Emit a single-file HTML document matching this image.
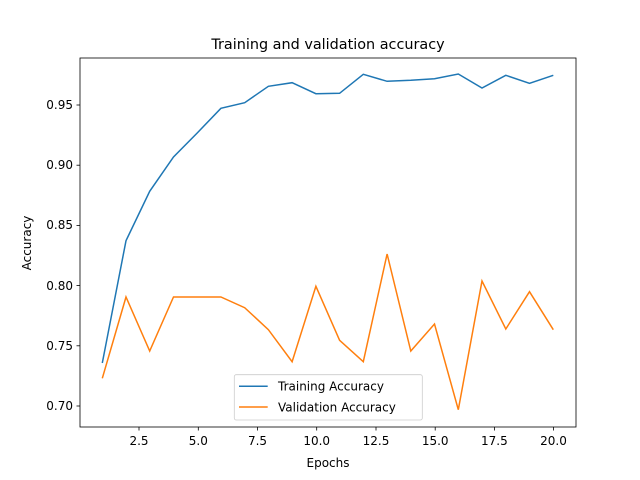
<!DOCTYPE html>
<html><head><meta charset="utf-8"><style>body{margin:0;background:#fff}svg{display:block}text{font-family:"DejaVu Sans","Liberation Sans",sans-serif;fill:#000}</style></head><body>
<svg width="640" height="480" viewBox="0 0 640 480">
<rect width="640" height="480" fill="#fff"/>
<text x="328" y="49" font-size="14.4" text-anchor="middle">Training and validation accuracy</text>
<g stroke="#000" stroke-width="0.8">
<line x1="139" y1="427" x2="139" y2="430.5"/><line x1="198.3" y1="427" x2="198.3" y2="430.5"/><line x1="257.5" y1="427" x2="257.5" y2="430.5"/><line x1="316.7" y1="427" x2="316.7" y2="430.5"/><line x1="376" y1="427" x2="376" y2="430.5"/><line x1="435.2" y1="427" x2="435.2" y2="430.5"/><line x1="494.4" y1="427" x2="494.4" y2="430.5"/><line x1="553.5" y1="427" x2="553.5" y2="430.5"/>
<line x1="80" y1="406" x2="76.5" y2="406"/><line x1="80" y1="345.8" x2="76.5" y2="345.8"/><line x1="80" y1="285.6" x2="76.5" y2="285.6"/><line x1="80" y1="225.4" x2="76.5" y2="225.4"/><line x1="80" y1="165.2" x2="76.5" y2="165.2"/><line x1="80" y1="105" x2="76.5" y2="105"/>
</g>
<g font-size="12" text-anchor="middle">
<text x="139" y="445">2.5</text><text x="198.3" y="445">5.0</text><text x="257.5" y="445">7.5</text><text x="316.7" y="445">10.0</text><text x="376" y="445">12.5</text><text x="435.2" y="445">15.0</text><text x="494.4" y="445">17.5</text><text x="553.5" y="445">20.0</text>
<text x="328" y="467">Epochs</text>
</g>
<g font-size="12" text-anchor="end">
<text x="73" y="410">0.70</text><text x="73" y="350">0.75</text><text x="73" y="290">0.80</text><text x="73" y="229">0.85</text><text x="73" y="169">0.90</text><text x="73" y="109">0.95</text>
</g>
<text transform="translate(31,243) rotate(-90)" font-size="12" text-anchor="middle">Accuracy</text>
<polyline fill="none" stroke="#1f77b4" stroke-width="1.5" points="102.3,363 126,240.7 149.7,191.3 173.5,157 197.2,133 220.9,108.3 244.7,102.7 268.4,86.3 292.1,82.7 315.9,93.7 339.6,93.3 363.3,74.3 387.1,81.3 410.8,80.3 434.5,78.7 458.3,74 482,88 505.8,75.3 529.5,83.3 553.3,75.3"/>
<polyline fill="none" stroke="#ff7f0e" stroke-width="1.5" points="102.3,378.3 126,297 149.7,351 173.5,297 197.2,297 220.9,297 244.7,307.7 268.4,329.7 292.1,361.7 315.9,286.3 339.6,340.3 363.3,361.7 387.1,254 410.8,351 434.5,324 458.3,409.7 482,281 505.8,329 529.5,291.7 553.3,329.7"/>
<rect x="80" y="58" width="496" height="369" fill="none" stroke="#000" stroke-width="0.8"/>
<rect x="234.3" y="374.7" width="188" height="45.3" rx="2" fill="#fff" fill-opacity="0.8" stroke="#ccc" stroke-width="0.8"/>
<line x1="239" y1="386.3" x2="267.7" y2="386.3" stroke="#1f77b4" stroke-width="1.5"/>
<line x1="239" y1="407" x2="267.7" y2="407" stroke="#ff7f0e" stroke-width="1.5"/>
<text x="278" y="390.5" font-size="12">Training Accuracy</text>
<text x="278" y="411.5" font-size="12">Validation Accuracy</text>
</svg>
</body></html>
